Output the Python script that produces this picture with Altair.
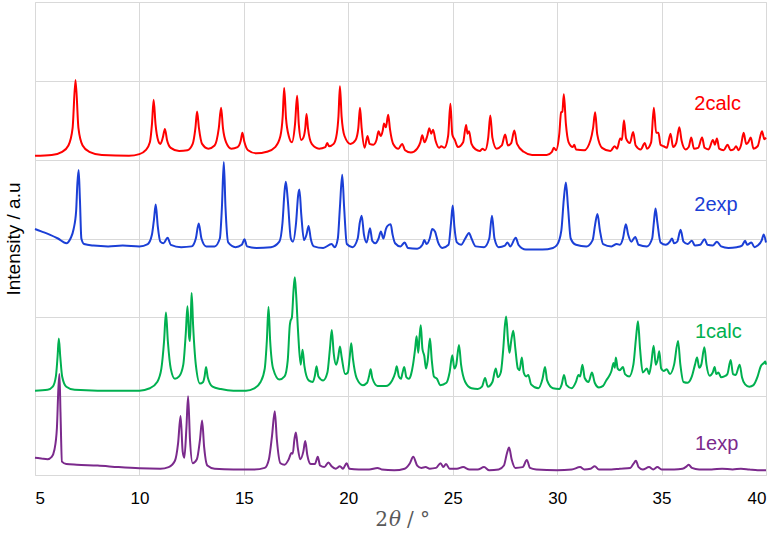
import altair as alt
import pandas as pd

# ---------------- data (2θ in degrees, intensity in arbitrary units, stacked) ----------------
x_2calc = [5.0,5.8,6.3,6.6,6.8,6.94,7.08,7.28,7.6,8.2,9.5,10.0,10.3,10.5,10.6,10.68,10.77,10.9,11.0,11.12,11.22,11.32,11.5,11.9,12.3,12.55,12.68,12.76,12.85,13.0,13.3,13.6,13.8,13.91,14.0,14.15,14.4,14.7,14.85,14.93,15.02,15.2,15.6,16.1,16.5,16.75,16.86,16.93,17.02,17.15,17.3,17.45,17.55,17.63,17.75,17.85,17.94,18.0,18.07,18.25,18.6,18.9,18.99,19.08,19.3,19.45,19.53,19.6,19.68,19.82,20.1,20.35,20.48,20.56,20.64,20.78,20.92,21.02,21.2,21.35,21.45,21.55,21.65,21.71,21.8,21.91,22.0,22.15,22.4,22.58,22.72,23.0,23.3,23.45,23.54,23.65,23.78,23.88,23.97,24.06,24.18,24.35,24.45,24.6,24.78,24.89,24.98,25.1,25.25,25.5,25.64,25.71,25.78,25.9,26.1,26.3,26.42,26.55,26.7,26.8,26.9,27.1,27.35,27.51,27.64,27.8,27.95,28.08,28.4,28.8,29.5,29.75,29.84,29.95,30.1,30.19,30.25,30.32,30.42,30.55,30.75,30.82,30.9,31.3,31.6,31.72,31.82,31.92,32.15,32.55,32.75,32.87,33.02,33.1,33.2,33.3,33.48,33.64,33.76,34.0,34.2,34.3,34.5,34.63,34.74,34.85,34.95,35.1,35.25,35.43,35.55,35.7,35.85,35.96,36.15,36.3,36.42,36.55,36.75,36.94,37.06,37.25,37.46,37.55,37.65,37.76,37.97,38.16,38.3,38.45,38.57,38.68,38.8,38.93,39.05,39.15,39.27,39.4,39.6,39.81,39.92,40.0]
y_2calc = [405,406,410,418,440,501,440,418,410,406,405,407,412,422,445,476,445,424,420,428,439,425,415,411,412,420,440,461,440,420,414,418,440,466,440,422,414,416,424,434,423,412,408,410,416,430,455,491,452,430,422,445,481,445,425,428,440,458,440,420,414,416,421,417,420,433,455,493,455,430,420,425,440,466,440,415,430,420,419,425,436,430,437,446,441,457,438,420,414,420,412,409,414,422,431,422,430,440,433,438,424,415,417,415,430,471,432,425,416,422,444,433,436,420,413,411,414,412,428,456,428,414,418,432,418,421,437,420,410,406,406,410,415,412,432,460,461,483,445,422,416,419,413,412,425,440,460,432,415,411,417,414,427,425,450,427,421,435,418,413,421,414,422,466,434,434,419,417,415,433,416,421,441,424,413,416,428,414,415,428,415,413,425,419,427,414,412,419,412,413,417,412,418,434,420,422,428,414,417,436,426,428]

x_2exp = [5.0,5.3,5.7,6.1,6.5,6.7,6.85,6.97,7.03,7.09,7.15,7.22,7.35,7.8,8.5,9.2,10.0,10.4,10.6,10.7,10.78,10.88,11.0,11.15,11.35,11.5,12.0,12.5,12.7,12.84,12.97,13.2,13.6,13.85,13.95,14.04,14.12,14.25,14.6,14.9,15.03,15.15,15.6,16.3,16.7,16.85,16.95,17.01,17.1,17.25,17.35,17.5,17.6,17.66,17.75,17.88,18.0,18.1,18.2,18.35,18.8,19.2,19.35,19.5,19.6,19.71,19.8,19.93,20.2,20.45,20.55,20.64,20.75,20.88,21.04,21.15,21.3,21.45,21.56,21.68,21.8,21.88,22.03,22.12,22.24,22.5,22.7,22.85,23.3,23.55,23.64,23.75,23.9,24.02,24.15,24.3,24.5,24.8,24.92,25.0,25.08,25.2,25.4,25.6,25.78,25.9,26.1,26.5,26.75,26.88,27.0,27.2,27.5,27.62,27.75,28.02,28.15,28.5,29.3,29.8,30.0,30.2,30.32,30.42,30.52,30.65,30.9,31.4,31.7,31.82,31.93,32.05,32.2,32.6,32.85,33.0,33.15,33.29,33.4,33.55,33.74,33.9,34.3,34.55,34.63,34.71,34.8,34.95,35.2,35.4,35.5,35.6,35.75,35.91,36.05,36.25,36.45,36.6,36.85,37.06,37.2,37.45,37.65,37.85,38.2,38.6,38.85,39.0,39.1,39.3,39.45,39.6,39.8,39.89,40.0]
y_2exp = [312,309,305,300,294,300,312,335,370,387,350,300,293,291,290,291,290,293,305,325,343,315,296,294,301,292,289,290,300,319,300,290,290,300,340,397,340,295,289,292,299,290,288,289,296,320,360,372,350,300,296,320,355,362,330,298,305,316,300,290,288,293,289,300,340,381,340,293,289,300,320,329,305,295,313,297,294,300,309,300,312,316,318,305,294,290,295,288,287,292,298,293,300,312,309,295,288,292,320,342,315,295,292,300,307,300,290,289,300,329,300,289,291,295,290,301,292,286,286,288,292,310,350,371,340,300,292,290,298,318,331,310,293,290,293,292,300,318,305,296,302,292,290,300,320,338,320,295,292,296,300,294,296,311,296,293,297,291,292,299,292,291,296,290,288,289,291,297,292,295,289,291,298,305,295]

x_1calc = [5.0,5.6,5.85,6.0,6.08,6.14,6.21,6.3,6.5,6.9,8.0,10.0,10.5,10.85,11.05,11.18,11.27,11.36,11.5,11.7,11.9,12.1,12.22,12.3,12.38,12.42,12.47,12.5,12.57,12.7,12.9,13.05,13.12,13.19,13.27,13.5,13.9,14.5,15.1,15.5,15.8,16.0,16.1,16.18,16.26,16.4,16.7,16.95,17.1,17.2,17.23,17.3,17.38,17.44,17.5,17.6,17.72,17.81,17.9,18.1,18.3,18.4,18.48,18.57,18.8,19.0,19.12,19.21,19.3,19.42,19.52,19.6,19.68,19.85,19.98,20.07,20.14,20.22,20.4,20.7,20.9,21.0,21.07,21.15,21.4,21.8,22.1,22.25,22.32,22.42,22.52,22.6,22.68,22.78,22.9,23.0,23.1,23.2,23.27,23.35,23.41,23.47,23.55,23.64,23.72,23.8,23.91,24.0,24.1,24.25,24.4,24.7,24.85,24.98,25.08,25.17,25.3,25.4,25.6,25.9,26.2,26.4,26.55,26.68,26.9,27.06,27.16,27.3,27.42,27.5,27.56,27.65,27.72,27.8,27.9,28.0,28.12,28.2,28.31,28.4,28.52,28.62,28.75,29.1,29.3,29.42,29.52,29.8,30.1,30.22,30.33,30.45,30.7,30.9,31.02,31.1,31.21,31.32,31.5,31.67,31.8,32.0,32.2,32.35,32.5,32.6,32.7,32.76,32.81,32.9,33.0,33.15,33.25,33.45,33.65,33.78,33.87,33.97,34.1,34.3,34.4,34.5,34.62,34.72,34.8,34.89,34.98,35.1,35.25,35.4,35.6,35.79,35.9,36.05,36.25,36.45,36.6,36.7,36.8,36.9,37.05,37.15,37.3,37.45,37.54,37.62,37.72,37.85,38.0,38.15,38.31,38.42,38.55,38.74,38.85,39.0,39.2,39.4,39.6,39.75,39.9,39.97,40.0]
y_1calc = [107,108,112,125,150,173,150,125,112,108,107,107,110,118,135,170,206,170,135,122,125,140,180,214,175,170,210,231,190,140,116,118,125,137,124,112,109,107,107,110,118,135,170,213,170,135,121,125,145,190,195,200,235,251,230,180,140,159,138,120,118,126,138,125,120,130,160,184,155,140,150,163,150,128,130,150,167,148,123,114,117,126,134,123,113,113,120,130,138,125,122,130,137,124,122,127,140,160,176,155,175,190,160,151,135,145,173,145,125,122,114,117,130,152,135,140,165,140,118,110,109,112,123,112,118,135,124,130,160,190,201,170,155,170,183,160,135,133,149,130,125,127,115,110,122,137,120,110,109,115,127,114,110,118,127,125,140,123,118,130,117,111,113,120,126,132,142,136,149,135,133,137,128,125,140,175,195,160,130,135,128,140,164,140,145,157,135,132,134,128,140,170,140,118,117,125,140,149,136,140,162,140,126,130,137,128,130,124,125,128,146,128,127,140,124,115,112,114,125,138,142,144,140]

x_1exp = [5.0,5.3,5.6,5.8,5.93,6.05,6.12,6.17,6.22,6.29,6.5,7.0,8.0,9.0,10.0,11.0,11.4,11.7,11.85,11.97,12.07,12.15,12.25,12.33,12.42,12.55,12.75,12.9,13.0,13.1,13.25,13.6,14.5,15.5,16.0,16.2,16.35,16.48,16.58,16.75,16.95,17.15,17.28,17.34,17.42,17.49,17.58,17.7,17.85,17.94,18.04,18.2,18.4,18.54,18.65,18.85,19.05,19.2,19.4,19.6,19.75,19.92,20.05,20.5,21.0,21.4,21.6,22.2,22.7,22.95,23.11,23.3,23.5,23.7,23.9,24.2,24.42,24.55,24.68,24.85,25.2,25.5,25.8,26.2,26.5,26.75,27.2,27.45,27.6,27.7,27.82,28.0,28.35,28.55,28.7,29.0,30.0,30.7,31.1,31.3,31.6,31.8,32.0,32.6,33.0,33.5,33.65,33.77,33.9,34.1,34.4,34.6,34.8,35.0,35.6,36.0,36.2,36.3,36.45,36.8,37.4,37.9,38.4,38.8,39.2,39.6,40.0]
y_1exp = [22,21,20,23,32,60,110,128,80,17,14,13,12,10,8.5,8,10,18,40,75,30,22,60,100,45,15,20,45,69,35,12,8,7,7,9,20,50,81,45,15,13,20,28,27,45,54,35,20,30,43,25,14,14,23,12,10,16,11,8,11,8,15,8,7,7,9,7,6,8,15,23,12,9,10,8,9,15,10,14,8,8,10,7,7,10,6,7,12,28,35,20,9,10,19,9,7,6,7,10,7,8,11,7,7,8,9,14,18,10,7,10,7,10,7,7,8,11,13,9,7,7,8,7,8,7,6,6]

series_names = ["2calc", "2exp", "1calc", "1exp"]
series_colors = ["#FF0000", "#1B3FD6", "#00B050", "#7B2A8C"]
label_x = [36.57, 36.57, 36.6, 36.6]
label_y = [471, 342, 181, 39]

x_ticks = [5, 10, 15, 20, 25, 30, 35, 40]
y_grid = [0, 100, 200, 300, 400, 500, 600]

# ---------------- build ----------------
xs = {"2calc": x_2calc, "2exp": x_2exp, "1calc": x_1calc, "1exp": x_1exp}
ys = {"2calc": y_2calc, "2exp": y_2exp, "1calc": y_1calc, "1exp": y_1exp}
frames = []
for n in series_names:
    frames.append(pd.DataFrame({"tt": xs[n], "I": ys[n], "series": n}))
df = pd.concat(frames, ignore_index=True)

labels_df = pd.DataFrame({"tt": label_x, "I": label_y, "series": series_names})

GRID = "#D9D9D9"
xscale = alt.Scale(domain=[5, 40], nice=False, zero=False)
yscale = alt.Scale(domain=[0, 600], nice=False, zero=False)
xaxis = alt.Axis(values=x_ticks, title=None, ticks=False, domain=False, grid=True,
                 gridColor=GRID, gridWidth=1, labelFontSize=17, labelColor="#000000",
                 labelFont="Liberation Sans", labelPadding=15)
yaxis = alt.Axis(values=y_grid, labels=False, ticks=False, domain=False, grid=True,
                 gridColor=GRID, gridWidth=1, title="Intensity / a.u", titleFontSize=19,
                 titleFont="Liberation Sans", titleFontWeight="normal", titleColor="#000000",
                 titlePadding=12)

layers = []
for n, c in zip(series_names, series_colors):
    layers.append(
        alt.Chart(df).transform_filter(alt.datum.series == n)
        .mark_line(strokeWidth=2, interpolate="monotone", color=c)
        .encode(x=alt.X("tt:Q", scale=xscale, axis=xaxis),
                y=alt.Y("I:Q", scale=yscale, axis=yaxis))
    )

text = alt.Chart(labels_df).mark_text(align="left", baseline="middle", fontSize=20,
                                      font="Liberation Sans").encode(
    x=alt.X("tt:Q", scale=xscale),
    y=alt.Y("I:Q", scale=yscale),
    text="series:N",
    color=alt.Color("series:N", scale=alt.Scale(domain=series_names, range=series_colors), legend=None),
)

title_df = pd.DataFrame({"t": ["x"]})
t2 = alt.Chart(title_df).mark_text(align="right", baseline="middle", fontSize=20,
                                   font="DejaVu Serif", color="#595959").encode(
    x=alt.value(353), y=alt.value(518), text=alt.value("2"))
tth = alt.Chart(title_df).mark_text(align="left", baseline="middle", fontSize=20,
                                    font="DejaVu Serif", fontStyle="italic", color="#595959").encode(
    x=alt.value(354), y=alt.value(518), text=alt.value("θ"))
tsl = alt.Chart(title_df).mark_text(align="left", baseline="middle", fontSize=20,
                                    font="DejaVu Serif", color="#595959").encode(
    x=alt.value(372), y=alt.value(518), text=alt.value("/ °"))

chart = alt.layer(*layers, text, t2, tth, tsl).properties(
    width=731, height=473,
    autosize=alt.AutoSizeParams(type="none"),
    padding={"left": 35, "top": 2, "right": 13, "bottom": 61},
).configure_view(stroke="transparent").configure(background="white")

chart.save("out.html", embed_options={"renderer": "svg", "actions": False})
